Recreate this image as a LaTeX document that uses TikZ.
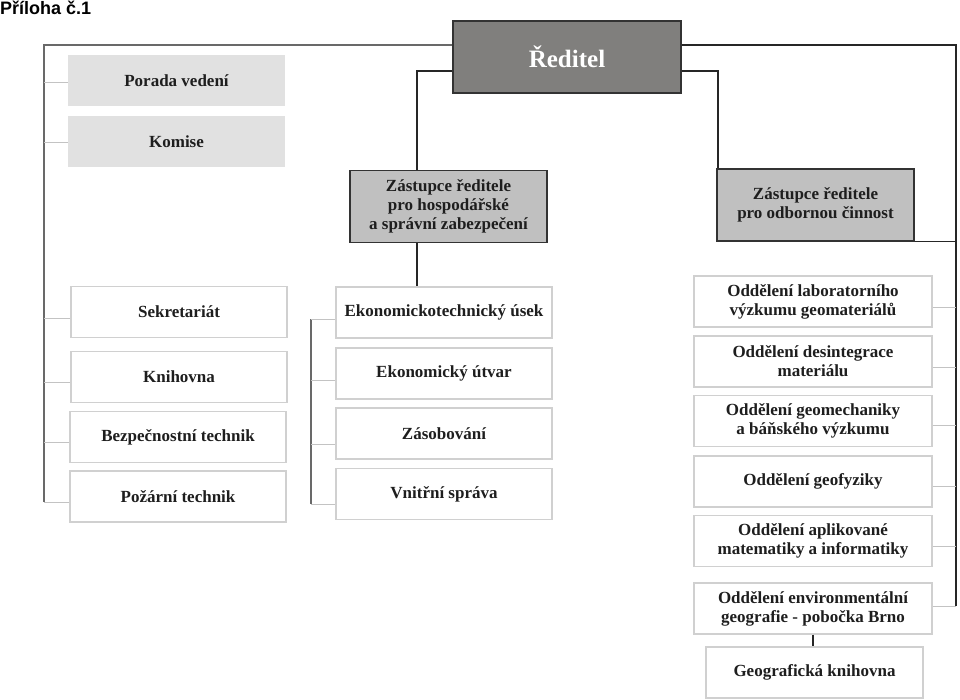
\documentclass[tikz,border=0pt]{standalone}
\usepackage{fontspec}
\setmainfont{Liberation Serif}
\newfontfamily\headfont{Liberation Sans}
\definecolor{bossgray}{RGB}{128,127,125}
\definecolor{deputygray}{RGB}{192,192,192}
\definecolor{councilgray}{RGB}{225,225,225}
\definecolor{framegray}{RGB}{208,208,208}
\definecolor{busgray}{RGB}{105,105,105}
\definecolor{twiggray}{RGB}{195,195,195}
\definecolor{ink}{RGB}{30,30,30}
\begin{document}
\begin{tikzpicture}[
	x=1pt,y=-1pt,
	line join=miter,
	box/.style={inner sep=0pt,align=center,text=ink,font=\bfseries\fontsize{17}{19}\selectfont},
	bossbox/.style={box,fill=bossgray,draw=black!80,line width=1.5pt,text=white,
		font=\bfseries\fontsize{25}{28}\selectfont,minimum width=228pt,minimum height=72pt},
	deputybox/.style={box,fill=deputygray,draw=black!80,line width=1.5pt,minimum width=197pt,minimum height=72pt},
	councilbox/.style={box,fill=councilgray,minimum width=217pt,minimum height=51pt},
	unitbox/.style={box,fill=white,draw=framegray,line width=1.2pt,minimum height=51pt},
	trunk/.style={draw=busgray,line width=2.3pt},
	wire/.style={draw=black!85,line width=1.4pt},
	twig/.style={draw=twiggray,line width=1pt}
	]
	\useasboundingbox (0,0) rectangle (960,700);
	\node[anchor=north west,inner sep=0pt,font=\headfont\bfseries\fontsize{18}{20}\selectfont] (priloha) at (0,1) {Příloha č.1};

	\node[bossbox] (reditel) at (567,57) {Ředitel};
	\node[deputybox] (zasthosp) at (448.5,206.5) {Zástupce ředitele\\pro hospodářské\\a správní zabezpečení};
	\node[deputybox] (zastodb) at (815.5,205) {Zástupce ředitele\\pro odbornou činnost};

	\node[councilbox] (porada) at (176.5,81) {Porada vedení};
	\node[councilbox] (komise) at (176.5,141.5) {Komise};

	\begin{scope}[every node/.append style={unitbox,minimum width=216pt}]
		\node (sekretariat) at (179,312) {Sekretariát};
		\node (knihovna) at (179,377) {Knihovna};
		\node (bezpecnost) at (178,437) {Bezpečnostní technik};
		\node (pozarni) at (178,496.5) {Požární technik};
	\end{scope}

	\begin{scope}[every node/.append style={unitbox,minimum width=216pt}]
		\node (ekontech) at (444,312.5) {Ekonomickotechnický úsek};
		\node (ekonutvar) at (444,373.5) {Ekonomický útvar};
		\node (zasobovani) at (444,433.5) {Zásobování};
		\node (vnitrni) at (444,494) {Vnitřní správa};
	\end{scope}

	\begin{scope}[every node/.append style={unitbox,minimum width=238pt}]
		\node (labor) at (813,301.5) {Oddělení laboratorního\\výzkumu geomateriálů};
		\node (desint) at (813,361.5) {Oddělení desintegrace\\materiálu};
		\node (geomech) at (813,421) {Oddělení geomechaniky\\a báňského výzkumu};
		\node (geofyz) at (813,481.5) {Oddělení geofyziky};
		\node (aplik) at (813,541) {Oddělení aplikované\\matematiky a informatiky};
		\node (environ) at (813,608.5) {Oddělení environmentální\\geografie - pobočka Brno};
	\end{scope}
	\node[unitbox,minimum width=217pt] (geoknih) at (814.5,672.5) {Geografická knihovna};

	\coordinate (busL) at (44,45);
	\coordinate (busLend) at (44,502);
	\coordinate (busR) at (956,45);
	\coordinate (busRend) at (956,606);
	\coordinate (busM) at (311,319);
	\coordinate (busMend) at (311,504);
	\coordinate (forkL) at (417,71);
	\coordinate (forkR) at (718,71);

	\draw[trunk] (reditel.west |- busL) -- (busL) -- (busLend);
	\foreach \n/\d in {porada/2,komise/1.5,sekretariat/6,knihovna/5,bezpecnost/5,pozarni/5.5}{
		\path (\n.west) ++(0,\d) coordinate (tip);
		\draw[twig] (busL |- tip) -- (tip);
	}

	\draw[trunk] (busM) -- (busMend);
	\foreach \n/\d in {ekontech/6.5,ekonutvar/6.5,zasobovani/10.5,vnitrni/10}{
		\path (\n.west) ++(0,\d) coordinate (tip);
		\draw[twig] (busM |- tip) -- (tip);
	}

	\draw[wire] (reditel.east |- busR) -- (busR) -- (busRend);
	\draw[wire] (zastodb.south east) -- (zastodb.south east -| busR);
	\foreach \n/\d in {labor/5.5,desint/5.5,geomech/4,geofyz/4.5,aplik/5,environ/-2.5}{
		\path (\n.east) ++(0,\d) coordinate (tip);
		\draw[twig] (tip) -- (tip -| busR);
	}

	\draw[wire] (reditel.west |- forkL) -- (forkL) -- (forkL |- zasthosp.north);
	\draw[wire] (forkL |- zasthosp.south) -- (forkL |- ekontech.north);
	\draw[wire] (reditel.east |- forkR) -- (forkR) -- (forkR |- zastodb.north);
	\draw[wire] (environ.south) -- (environ.south |- geoknih.north);
\end{tikzpicture}
\end{document}
